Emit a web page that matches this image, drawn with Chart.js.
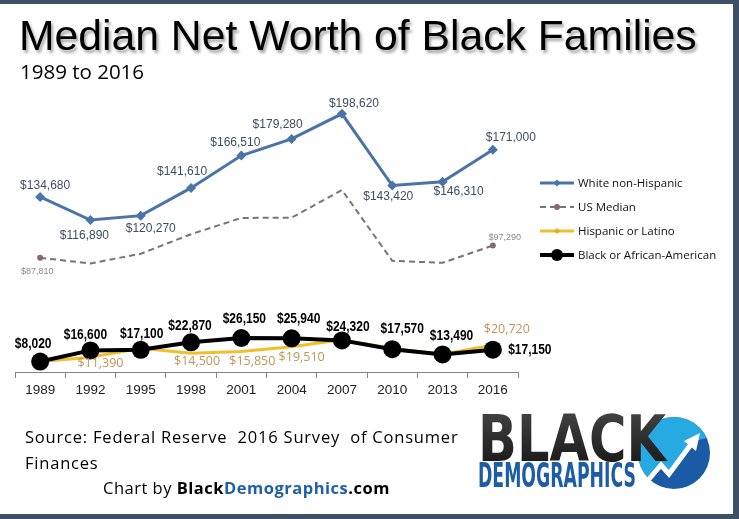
<!DOCTYPE html>
<html>
<head>
<meta charset="utf-8">
<script src="https://cdn.jsdelivr.net/npm/chart.js@4.4.0/dist/chart.umd.min.js"></script>
<style>
body{margin:0;background:#fff;}
#wrap{position:relative;width:739px;height:519px;overflow:hidden;background:#fff;font-family:"Liberation Sans",Arial,sans-serif;}
#c{position:absolute;left:0;top:0;}
.bar{position:absolute;background:#3d5066;z-index:5;}
#title{position:absolute;left:19px;top:11px;font-size:42.7px;line-height:48px;color:#000;text-shadow:2px 3px 3px rgba(0,0,0,.35);white-space:nowrap;}
#sub{position:absolute;left:20px;top:58px;font-family:"Open Sans",sans-serif;font-size:20.5px;line-height:26px;color:#000;white-space:nowrap;}
#source{position:absolute;left:25px;top:424px;font-family:"Open Sans",sans-serif;font-size:16.5px;letter-spacing:0.8px;line-height:26px;color:#000;white-space:nowrap;}
#credit{position:absolute;left:103px;top:475px;font-family:"Open Sans",sans-serif;font-size:16.5px;letter-spacing:0.5px;line-height:26px;color:#000;white-space:nowrap;}
#credit b{font-weight:700;}
#credit .blue{color:#1f5fa8;}
#logo{position:absolute;left:470px;top:405px;}
</style>
</head>
<body>
<div id="wrap">
  <canvas id="c" width="739" height="519"></canvas>
  <div id="title">Median Net Worth of Black Families</div>
  <div id="sub">1989 to 2016</div>
  <div id="source">Source: Federal Reserve&nbsp; 2016 Survey&nbsp; of Consumer<br>Finances</div>
  <div id="credit">Chart by <b>Black</b><b class="blue">Demographics</b><b>.com</b></div>
  <svg id="logo" width="250" height="95" viewBox="0 0 250 95">
    <defs>
      <linearGradient id="blk" x1="0" y1="0" x2="0" y2="1">
        <stop offset="0" stop-color="#4a4a4a"/>
        <stop offset="1" stop-color="#111"/>
      </linearGradient>
      <clipPath id="circ"><circle cx="204" cy="48" r="36"/></clipPath>
    </defs>
    <circle cx="204" cy="48" r="36" fill="#1b5aa5"/>
    <polygon clip-path="url(#circ)" points="160,90 160,0 250,0 250,30 224,36 199,69 191,60 170,85" fill="#27a9e1"/>
    <polyline points="169,86 191,60 199,69 222,38" fill="none" stroke="#fff" stroke-width="5" stroke-linejoin="miter"/>
    <polygon points="214,36 230,28 226,46" fill="#fff"/>
    <text x="8" y="56" font-family="'Liberation Sans Narrow','DejaVu Sans Condensed','Liberation Sans'" font-weight="700" font-size="64" textLength="188" lengthAdjust="spacingAndGlyphs" fill="url(#blk)">BLACK</text>
    <text x="8" y="82" font-family="'Liberation Sans Narrow','DejaVu Sans Condensed','Liberation Sans'" font-weight="700" font-size="34" textLength="158" lengthAdjust="spacingAndGlyphs" fill="#1d5ca6">DEMOGRAPHICS</text>
  </svg>
  <div class="bar" style="left:0;top:0;width:739px;height:4px;"></div>
  <div class="bar" style="right:0;top:0;width:6px;height:519px;"></div>
  <div class="bar" style="left:0;bottom:0;width:739px;height:5px;"></div>
</div>
<script>
// Datos
var years = ['1989', '1992', '1995', '1998', '2001', '2004', '2007', '2010', '2013', '2016'];
var whiteVals = [134680, 116890, 120270, 141610, 166510, 179280, 198620, 143420, 146310, 171000];
var usMedianVals = [87810, 83500, 91000, 106000, 118500, 118700, 140000, 85500, 84000, 97290];
var hispanicVals = [8000, 11390, 18300, 14500, 15850, 19510, 24800, 18000, 13700, 20720];
var blackVals = [8020, 16600, 17100, 22870, 26150, 25940, 24320, 17570, 13490, 17150];
var yMin = 0;
var yMax = 210000;

// posicion de las etiquetas (dx, dy desde el punto), null = sin etiqueta
var whiteLabelPos = [[5,-11],[-6,16],[10,13],[-9,-16],[-6,-13],[-14,-14],[12,-10],[-4,11],[16,10],[18,-12]];
var usLabelPos = [[-3,14],null,null,null,null,null,null,null,null,[12,-8]];
var hispLabelPos = [null,[10,6],null,[6,8],[11,10],[10,11],null,null,null,[14,-16]];
var blackLabelPos = [[-7,-18],[-5,-16],[1,-16],[-1,-16],[3,-19],[7,-19],[6,-14],[10,-20],[9,-19],[37,0]];

function money(v) {
    return '$' + v.toLocaleString('en-US');
}

// etiquetas de datos
var pointLabels = {
    id: 'pointLabels',
    afterDatasetsDraw: function (chart) {
        var ctx = chart.ctx;
        chart.data.datasets.forEach(function (ds, i) {
            var meta = chart.getDatasetMeta(i);
            var sx = ds.labelScaleX || 1;
            meta.data.forEach(function (pt, j) {
                var o = ds.labelPos[j];
                if (!o) return;
                ctx.save();
                ctx.font = ds.labelFont;
                ctx.fillStyle = ds.labelColor;
                ctx.textAlign = 'center';
                ctx.textBaseline = 'middle';
                ctx.translate(pt.x + o[0], pt.y + o[1]);
                ctx.scale(sx, 1);
                ctx.fillText(money(ds.data[j]), 0, 0);
                ctx.restore();
            });
        });
    }
};

// leyenda a la derecha
var legendOrder = ['White non-Hispanic', 'US Median', 'Hispanic or Latino', 'Black or African-American'];
var sideLegend = {
    id: 'sideLegend',
    afterDraw: function (chart) {
        var ctx = chart.ctx;
        var x0 = 540, y0 = 183, step = 24;
        legendOrder.forEach(function (name, k) {
            var ds = chart.data.datasets.find(function (d) { return d.label === name; });
            var y = y0 + k * step;
            var r = ds.legendMarkSize;
            ctx.save();
            ctx.strokeStyle = ds.borderColor;
            ctx.lineWidth = ds.borderWidth;
            ctx.setLineDash(ds.borderDash || []);
            ctx.beginPath();
            ctx.moveTo(x0, y);
            ctx.lineTo(x0 + 34, y);
            ctx.stroke();
            ctx.setLineDash([]);
            ctx.fillStyle = ds.legendMarkColor;
            ctx.beginPath();
            if (ds.legendMark === 'circle') {
                ctx.arc(x0 + 17, y, r, 0, Math.PI * 2);
            } else {
                ctx.moveTo(x0 + 17, y - r);
                ctx.lineTo(x0 + 17 + r, y);
                ctx.lineTo(x0 + 17, y + r);
                ctx.lineTo(x0 + 17 - r, y);
                ctx.closePath();
            }
            ctx.fill();
            ctx.font = '11.5px "Open Sans"';
            ctx.fillStyle = '#111';
            ctx.textAlign = 'left';
            ctx.textBaseline = 'middle';
            ctx.fillText(name, x0 + 38, y + 1);
            ctx.restore();
        });
    }
};

var ctx = document.getElementById('c').getContext('2d');
var chart = new Chart(ctx, {
    type: 'line',
    data: {
        labels: years,
        datasets: [{
            label: 'Black or African-American',
            data: blackVals,
            borderColor: '#000',
            backgroundColor: '#000',
            borderWidth: 4,
            pointRadius: 9,
            pointHoverRadius: 9,
            pointBackgroundColor: '#000',
            pointBorderWidth: 0,
            labelPos: blackLabelPos,
            labelFont: 'bold 15px "Liberation Sans"',
            labelScaleX: 0.8,
            labelColor: '#000',
            legendMark: 'circle',
            legendMarkSize: 6,
            legendMarkColor: '#000'
        }, {
            label: 'Hispanic or Latino',
            data: hispanicVals,
            borderColor: '#f1bf2c',
            backgroundColor: '#f1bf2c',
            borderWidth: 3,
            pointRadius: 0,
            labelPos: hispLabelPos,
            labelFont: '12.5px "Open Sans"',
            labelColor: '#bf955a',
            legendMark: 'diamond',
            legendMarkSize: 3,
            legendMarkColor: '#e0b020'
        }, {
            label: 'White non-Hispanic',
            data: whiteVals,
            borderColor: '#4a74a8',
            backgroundColor: '#4a74a8',
            borderWidth: 3,
            pointStyle: 'rectRot',
            pointRadius: 5,
            pointBackgroundColor: '#4a74a8',
            pointBorderWidth: 0,
            labelPos: whiteLabelPos,
            labelFont: '12px "Liberation Sans"',
            labelColor: '#3e4e63',
            legendMark: 'diamond',
            legendMarkSize: 3.5,
            legendMarkColor: '#4a74a8'
        }, {
            label: 'US Median',
            data: usMedianVals,
            borderColor: '#7b7375',
            backgroundColor: '#86686f',
            borderWidth: 2,
            borderDash: [6, 4],
            pointRadius: function (c) { return (c.dataIndex === 0 || c.dataIndex === years.length - 1) ? 3 : 0; },
            pointBackgroundColor: '#86686f',
            pointBorderWidth: 0,
            labelPos: usLabelPos,
            labelFont: '9px "Liberation Sans"',
            labelColor: '#8a8a8a',
            legendMark: 'circle',
            legendMarkSize: 3,
            legendMarkColor: '#86686f'
        }]
    },
    options: {
        responsive: false,
        animation: false,
        layout: {
            padding: { left: 15, right: 221, top: 99, bottom: 117 }
        },
        plugins: {
            legend: { display: false },
            tooltip: { enabled: false },
            title: { display: false }
        },
        elements: {
            line: { tension: 0 }
        },
        scales: {
            x: {
                offset: true,
                grid: {
                    offset: true,
                    drawOnChartArea: false,
                    drawTicks: true,
                    tickLength: 6,
                    color: '#868686'
                },
                border: { display: true, color: '#868686', width: 1 },
                ticks: {
                    color: '#222',
                    font: { family: 'Liberation Sans', size: 13.5 },
                    padding: 4,
                    maxRotation: 0
                },
                afterFit: function (s) { s.height = 30; }
            },
            y: {
                display: false,
                min: yMin,
                max: yMax
            }
        }
    },
    plugins: [pointLabels, sideLegend]
});
</script>
</body>
</html>
